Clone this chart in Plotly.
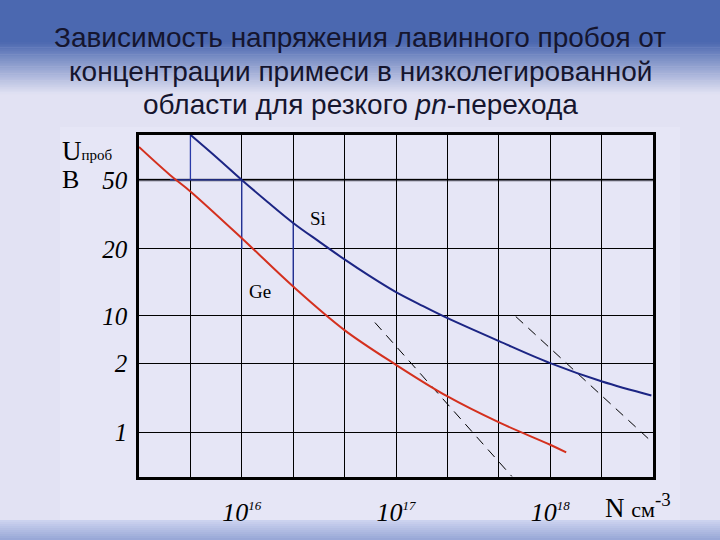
import plotly.graph_objects as go

# ---------------- data ----------------
# Si curve: impurity concentration N (cm^-3) and vertical chart position (schematic grid units)
si_N = [4.66e15, 6.87e15, 1.0e16, 1.47e16, 2.154e16, 3.16e16, 4.61e16, 6.77e16, 1.0e17,
        1.5e17, 2.16e17, 4.66e17, 1.0e18, 2.17e18, 4.53e18]
si_U = [342.3, 319.8, 297.3, 275.3, 254.3, 235.8, 218.0, 201.0, 185.0,
        171.0, 159.0, 136.0, 114.0, 95.6, 81.6]
# Ge curve
ge_N = [2.154e15, 3.42e15, 4.66e15, 1.0e16, 2.154e16, 4.61e16, 1.0e17, 2.16e17, 4.66e17,
        1.0e18, 1.27e18]
ge_U = [330.3, 302.3, 285.6, 239.0, 190.6, 147.3, 112.3, 80.6, 54.6, 32.3, 24.6]
# dashed limit lines
dash1_N = [7.3e16, 5.64e17]
dash1_U = [154.6, 0.6]
dash2_N = [5.98e17, 4.53e18]
dash2_U = [160.6, 35.6]
# blue helper segments (None separates segments)
helper_N = [4.642e15, 4.642e15, None, 3.42e15, 1.0e16, None, 1.0e16, 1.0e16, None, 2.154e16, 2.154e16]
helper_U = [342.3, 297.3, None, 297.3, 297.3, None, 297.3, 228.3, None, 254.3, 190.6]

# axis ticks
y_tick_pos = [45, 114, 161.3, 228.3, 297.3]
y_tick_text = ["1", "2", "10", "20", "50"]
x_tick_N = [1e16, 1e17, 1e18]
x_tick_text = ["10<sup><span style='font-size:13px'>16</span></sup>",
               "10<sup><span style='font-size:13px'>17</span></sup>",
               "10<sup><span style='font-size:13px'>18</span></sup>"]
x_minor_N = [2.154e15, 4.642e15, 2.154e16, 4.642e16, 2.154e17, 4.642e17, 2.154e18, 4.642e18]

title_lines = ["Зависимость напряжения лавинного пробоя от",
               "концентрации примеси в низколегированной",
               "области для резкого <i>pn</i>-перехода"]
title_y = [37, 71, 104]

# ---------------- layout geometry ----------------
W, H = 720, 540
L, R, T, B = 139, 67, 135, 63
PW, PH = W - L - R, H - T - B


def px(x):
    return (x - L) / PW


def py(y):
    return (H - B - y) / PH


SERIF = "Liberation Serif"
LAV = "#e2e2f3"

fig = go.Figure()

fig.add_trace(go.Scatter(x=helper_N, y=helper_U, mode="lines",
                         line=dict(color="#2a3aa8", width=1.3), hoverinfo="skip"))
fig.add_trace(go.Scatter(x=dash1_N, y=dash1_U, mode="lines",
                         line=dict(color="black", width=1, dash="10px,7px"), hoverinfo="skip"))
fig.add_trace(go.Scatter(x=dash2_N, y=dash2_U, mode="lines",
                         line=dict(color="black", width=1, dash="10px,7px"), hoverinfo="skip"))
fig.add_trace(go.Scatter(x=ge_N, y=ge_U, mode="lines", name="Ge",
                         line=dict(color="#d4301e", width=2, shape="spline", smoothing=1.0)))
fig.add_trace(go.Scatter(x=si_N, y=si_U, mode="lines", name="Si",
                         line=dict(color="#1c2584", width=2, shape="spline", smoothing=1.0)))

shapes = []
# slide background: top blue band with gradient
shapes.append(dict(type="rect", xref="paper", yref="paper", x0=px(0), x1=px(W),
                   y0=py(42), y1=py(0), fillcolor="#4b68b0", line_width=0, layer="below"))
top_c = (75, 104, 176)
bot_c = (226, 226, 243)
n = 30
for i in range(n):
    f = (i + 0.5) / n
    c = tuple(int(round(top_c[k] + (bot_c[k] - top_c[k]) * f)) for k in range(3))
    ya = 42 + 52 * i / n
    yb = 42 + 52 * (i + 1) / n + 0.6
    shapes.append(dict(type="rect", xref="paper", yref="paper", x0=px(0), x1=px(W),
                       y0=py(yb), y1=py(ya), fillcolor="rgb(%d,%d,%d)" % c,
                       line_width=0, layer="below"))
# lighter image panel
shapes.append(dict(type="rect", xref="paper", yref="paper", x0=px(60), x1=px(680),
                   y0=py(522), y1=py(127), fillcolor="#e6e6f6", line_width=0, layer="below"))
# bottom band gradient
b0 = (206, 212, 240)
b1 = (150, 166, 214)
m = 10
for i in range(m):
    f = (i + 0.5) / m
    c = tuple(int(round(b0[k] + (b1[k] - b0[k]) * f)) for k in range(3))
    ya = 520 + 20 * i / m
    yb = 520 + 20 * (i + 1) / m + 0.6
    shapes.append(dict(type="rect", xref="paper", yref="paper", x0=px(0), x1=px(W),
                       y0=py(yb), y1=py(ya), fillcolor="rgb(%d,%d,%d)" % c,
                       line_width=0, layer="below"))
# thicker grey grid line at "50"
shapes.append(dict(type="line", xref="paper", yref="y", x0=0, x1=1,
                   y0=y_tick_pos[-1], y1=y_tick_pos[-1],
                   line=dict(color="#5a5a66", width=2.5), layer="below"))

annotations = []
for line, yy in zip(title_lines, title_y):
    annotations.append(dict(xref="paper", yref="paper", x=0.5 * (px(0) + px(W)), y=py(yy),
                            xanchor="center", yanchor="middle", showarrow=False,
                            text=line,
                            font=dict(family="Liberation Sans", size=28, color="#15152e")))
annotations.append(dict(xref="x", yref="y", x=16.493, y=259, showarrow=False,
                        text="Si", font=dict(family=SERIF, size=19, color="black")))
annotations.append(dict(xref="x", yref="y", x=16.117, y=186, showarrow=False,
                        text="Ge", font=dict(family=SERIF, size=19, color="black")))
annotations.append(dict(xref="paper", yref="paper", x=px(60), y=py(151), xanchor="left",
                        yanchor="middle", showarrow=False,
                        text="U<span style='font-size:15px'>проб</span>",
                        font=dict(family=SERIF, size=27, color="black")))
annotations.append(dict(xref="paper", yref="paper", x=px(60), y=py(179), xanchor="left",
                        yanchor="middle", showarrow=False, text="B",
                        font=dict(family=SERIF, size=26, color="black")))
annotations.append(dict(xref="paper", yref="paper", x=px(603), y=py(506), xanchor="left",
                        yanchor="middle", showarrow=False,
                        text="N <span style='font-size:22px'>см</span><sup>-3</sup>",
                        font=dict(family=SERIF, size=27, color="black")))

fig.update_layout(
    width=W, height=H,
    margin=dict(l=L, r=R, t=T, b=B, pad=0),
    paper_bgcolor=LAV, plot_bgcolor="#e5e5f5",
    showlegend=False,
    shapes=shapes, annotations=annotations,
    xaxis=dict(type="log", range=[15.33333, 18.66667], tickmode="array",
               tickvals=x_tick_N, ticktext=x_tick_text, ticks="",
               showgrid=True, gridcolor="black", gridwidth=1.3,
               minor=dict(tickmode="array", tickvals=x_minor_N, showgrid=True,
                          gridcolor="black", gridwidth=1.3, ticks=""),
               showline=True, mirror=True, linecolor="black", linewidth=2.5,
               tickfont=dict(family=SERIF, size=26, color="black", style="italic"),
               ticklabelstandoff=10, zeroline=False),
    yaxis=dict(range=[0, 342.3], tickmode="array", tickvals=y_tick_pos,
               ticktext=y_tick_text, ticks="",
               showgrid=True, gridcolor="black", gridwidth=1.3,
               showline=True, mirror=True, linecolor="black", linewidth=2.5,
               tickfont=dict(family=SERIF, size=25, color="black", style="italic"),
               ticklabelstandoff=4, zeroline=False),
)

fig.write_html("out.html", config={"displayModeBar": False},
               post_script="document.body.style.margin='0px';")
